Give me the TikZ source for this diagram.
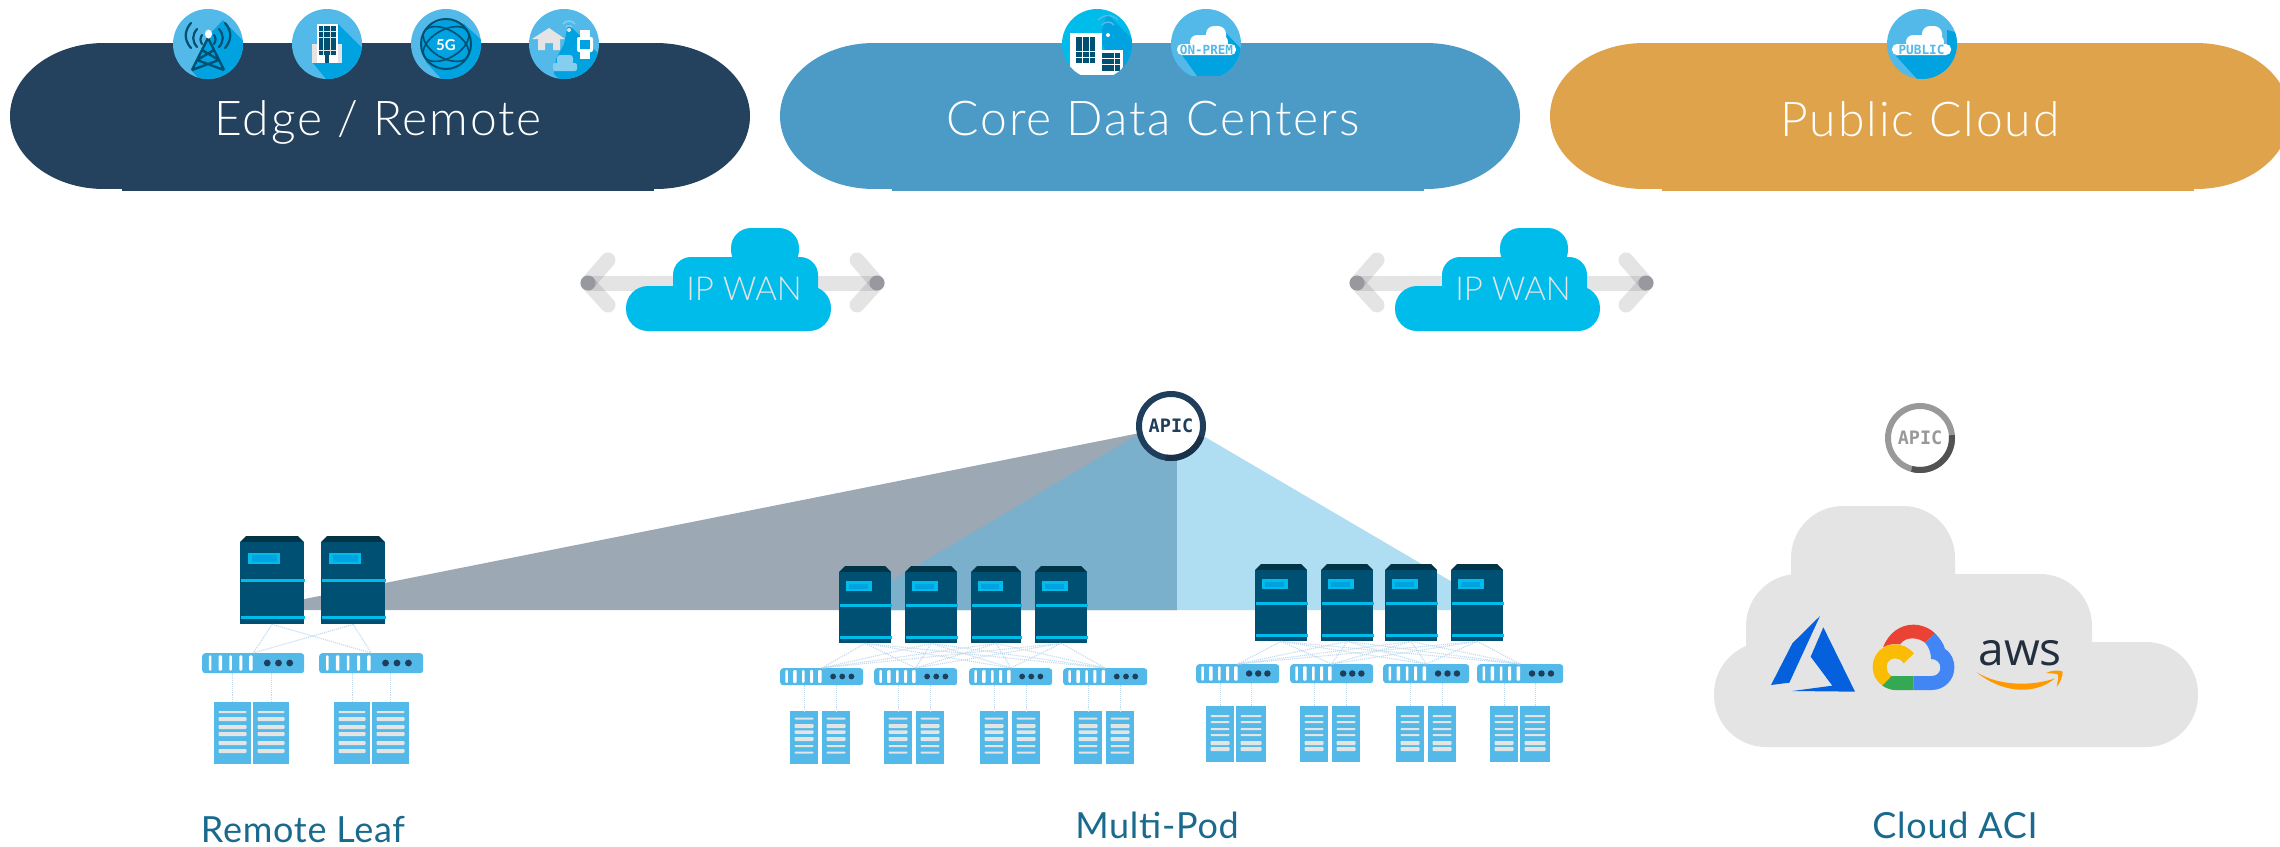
\documentclass[tikz,border=0pt]{standalone}
\usepackage{fontspec}
\setmainfont{Lato}
\newfontfamily\lightf[LetterSpace=4]{Lato Light}
\newfontfamily\labelf[LetterSpace=2]{Lato}
\newfontfamily\wanf{Lato Light}
\newfontfamily\monof{DejaVu Sans Mono}
\newfontfamily\opensf{Open Sans}
\definecolor{edgecol}{HTML}{24425D}
\definecolor{corecol}{HTML}{4C9BC7}
\definecolor{pubcol}{HTML}{DFA44B}
\definecolor{iconlight}{HTML}{52B9E9}
\definecolor{icondark}{HTML}{00A3E0}
\definecolor{cyanc}{HTML}{00BCEB}
\definecolor{deepblue}{HTML}{005073}
\definecolor{capcol}{HTML}{003446}
\definecolor{paleg}{HTML}{E4E4E4}
\definecolor{labelcol}{HTML}{1A6A8E}
\definecolor{dotcol}{HTML}{C2DAED}
\definecolor{navyring}{HTML}{1F3E5C}
\definecolor{arrowg}{HTML}{4D4D55}
\definecolor{apexg}{HTML}{97999F}
\definecolor{wedgeg}{HTML}{9CA8B3}
\definecolor{wedgem}{HTML}{7BB0CD}
\definecolor{wedgel}{HTML}{AFDDF2}
\tikzset{
  headtxt/.style={anchor=base,inner sep=0pt,text=white,font=\lightf\fontsize{48}{50}\selectfont},
  labtxt/.style={anchor=base,inner sep=0pt,text=labelcol,font=\labelf\fontsize{36}{40}\selectfont},
  wantxt/.style={anchor=base,inner sep=0pt,text=paleg,font=\wanf\fontsize{33}{36}\selectfont},
  dotline/.style={densely dotted,draw=dotcol,line width=1.1pt},
  spinebody/.style={rectangle,fill=deepblue,inner sep=0pt,anchor=north west},
  leafbody/.style={rectangle,fill=iconlight,rounded corners=3pt,inner sep=0pt,anchor=north west},
  hostbody/.style={rectangle,fill=iconlight,inner sep=0pt,anchor=north west},
  iconcirc/.style={circle,inner sep=0pt,minimum size=70pt},
  apicnode/.style={circle,fill=white,inner sep=0pt,minimum size=64pt,line width=6pt,font=\monof\bfseries\fontsize{18.5}{18}\selectfont},
  shaftline/.style={line width=15pt,draw=arrowg,opacity=.15},
  armline/.style={line width=15pt,line cap=round,draw=arrowg,opacity=.15},
}
% name, x, y(body top), w, h
\newcommand\spinebox[5]{%
  \begin{scope}[shift={(#2,#3)}]
    \fill[capcol] (0,0)--(6,-6)--(#4-6,-6)--(#4,0)--cycle;
    \node[spinebody,minimum width=#4pt,minimum height=#5pt] (#1) at (0,0) {};
    \fill[cyanc] (0.13*#4,0.13*#5) rectangle (0.63*#4,0.27*#5);
    \fill[icondark] (0.13*#4+3.5,0.13*#5+2.5) rectangle (0.63*#4-3.5,0.27*#5-2.5);
    \fill[cyanc] (1,0.47*#5-1.2) rectangle (#4+1,0.47*#5+1.2);
    \fill[cyanc] (1,0.92*#5-1.2) rectangle (#4+1,0.92*#5+1.2);
  \end{scope}}
% name, x, y, w, h
\newcommand\leafbox[5]{%
  \begin{scope}[shift={(#2,#3)}]
    \node[leafbody,minimum width=#4pt,minimum height=#5pt] (#1) at (0,0) {};
    \foreach \ff/\ww in {.08/2.5,.18/3.5,.28/2.5,.38/3,.48/3.5}
      \fill[white,rounded corners=1pt] (\ff*#4-\ww/2,0.12*#5) rectangle (\ff*#4+\ww/2,0.88*#5);
    \foreach \ff in {.64,.75,.86}
      \fill[navyring] (\ff*#4,0.5*#5) circle (0.17*#5);
  \end{scope}}
% name, x, y, w, h, barlist
\newcommand\hostbox[6]{%
  \begin{scope}[shift={(#2,#3)}]
    \node[hostbody,minimum width=#4pt,minimum height=#5pt] (#1) at (0,0) {};
    \foreach \yy/\hh in #6
      \fill[paleg,rounded corners=.8pt] (4.5,\yy-\hh/2) rectangle (#4-4.5,\yy+\hh/2);
  \end{scope}}
\newcommand\barsR{10/2,17/4,25/4,32/4,41/4,49/4}
\newcommand\barsA{7.5/2,15/4,21/3.5,28/4,35/2,41.5/2}
\newcommand\barsB{10/2,16/2,23/2,29/2,37/4,43/4}
% name, cx, light, dark, polygon, bottom clip, content
\newcommand\iconbase[7]{%
  \begin{scope}[shift={(#2,44)}]
    \clip (-40,-40) rectangle (40,#6);
    \node[iconcirc,fill=#3] (#1) at (0,0) {};
    \begin{scope}
      \clip (0,0) circle (35);
      \fill[#4] #5 -- cycle;
      #7
    \end{scope}
  \end{scope}}
\newcommand\iconcloud[3]{%
  \fill[white,rounded corners=5pt] (#1,0) rectangle (#2,11);
  \fill[white,rounded corners=7pt] (-16,-9) rectangle (22,5);
  \fill[white,rounded corners=8pt] (0,-18) rectangle (20,2);
  \node[inner sep=0pt,text=iconlight,font=\monof\bfseries\fontsize{#3}{#3}\selectfont] at (0.5*#1+0.5*#2,5.5)}
% name, dx
\newcommand\wangroup[2]{%
  \begin{scope}[shift={(#2,0)}]
    \coordinate (#1L) at (588,283);
    \coordinate (#1R) at (877,283);
    \draw[shaftline] (#1L) -- (#1R);
    \draw[armline] (#1L) -- (608,260);
    \draw[armline] (#1L) -- (608,305);
    \draw[armline] (#1R) -- (857,260);
    \draw[armline] (#1R) -- (857,305);
    \fill[apexg] (#1L) circle (7.5);
    \fill[apexg] (#1R) circle (7.5);
    \fill[cyanc,rounded corners=22pt] (626,286) rectangle (831,331);
    \fill[cyanc,rounded corners=18pt] (673,257) rectangle (818,305);
    \fill[cyanc,rounded corners=20pt] (731,228) rectangle (799,270);
    \node[wantxt] (#1T) at (744,300) {IP WAN};
  \end{scope}}
\newcommand\pillshape[3]{% colour, left x, width
  \fill[#1] (#2+94,116) ellipse [x radius=94,y radius=73];
  \fill[#1] (#2+#3-94,116) ellipse [x radius=94,y radius=73];
  \fill[#1] (#2+94,43) rectangle (#2+#3-94,189);
  \fill[#1] (#2+112,43) rectangle (#2+#3-96,191);}
\begin{document}
\begin{tikzpicture}[x=1pt,y=-1pt]
\useasboundingbox (0,0) rectangle (2280,846);
\clip (0,0) rectangle (2280,846);
\fill[white] (0,0) rectangle (2280,846);

% pills
\pillshape{edgecol}{10}{740}
\pillshape{corecol}{780}{740}
\pillshape{pubcol}{1550}{740}
\node[headtxt] (edgeT) at (378,135) {Edge / Remote};
\node[headtxt] (coreT) at (1153,135) {Core Data Centers};
\node[headtxt] (pubT) at (1920,136.5) {Public Cloud};

% icons
\iconbase{icTower}{208}{iconlight}{icondark}{(15,-24)--(40,2)--(40,40)--(-4,40)--(-17,26)--(0,-8)}{40}{%
  \draw[deepblue,line width=2.4pt,line join=round] (-16,26)--(0,-6)--(16,26) (-6,6)--(11,16) (6,6)--(-11,16) (-11,16)--(16,26) (11,16)--(-16,26);
  \draw[deepblue,line width=2.2pt,line cap=round]
   (-17,-21) .. controls (-24,-13) and (-24,-4) .. (-17,4)
   (-11,-15) .. controls (-16,-9) and (-16,-3) .. (-11,3)
   (-6,-9) .. controls (-8,-6) and (-8,-3) .. (-6,0)
   (17,-21) .. controls (24,-13) and (24,-4) .. (17,4)
   (11,-15) .. controls (16,-9) and (16,-3) .. (11,3)
   (6,-9) .. controls (8,-6) and (8,-3) .. (6,0);
  \fill[white] (0.5,-10) ellipse [x radius=3.5,y radius=4.5];
}
\iconbase{icBuild}{327}{iconlight}{icondark}{(11,-20)--(40,9)--(40,40)--(3,40)--(-14,19)}{40}{%
  \fill[paleg] (-15,0) rectangle (15,19);
  \fill[white] (-10,-20) rectangle (11,19);
  \fill[deepblue] (-8,-18) rectangle (9,11);
  \fill[deepblue] (-2,11) rectangle (2,19);
  \draw[paleg,line width=1pt] (-8,-13) -- (9,-13) (-8,-7) -- (9,-7) (-8,6) -- (9,6) (-3.5,-18) -- (-3.5,11) (3,-18) -- (3,11);
}
\iconbase{ic5G}{446}{iconlight}{icondark}{(18,-20)--(40,0)--(40,40)--(0,40)--(-20,18)--(-25,0)--(-18,-18)--(0,-25)}{40}{%
  \draw[deepblue,line width=2pt] (0,0) circle (25);
  \draw[deepblue,line width=1.6pt,rotate=30] (0,0) ellipse [x radius=25,y radius=14];
  \draw[deepblue,line width=1.6pt,rotate=-30] (0,0) ellipse [x radius=25,y radius=14];
  \node[inner sep=1pt,fill=icondark,text=white,font=\bfseries\fontsize{15}{15}\selectfont] at (0,1) {5G};
}
\iconbase{icHome}{564}{iconlight}{icondark}{(4,-20)--(40,15)--(40,40)--(0,40)--(-10,30)--(-8,15)--(0,0)}{40}{%
  \fill[paleg] (-32,-5) -- (-15,-16) -- (1,-5) -- (-4,-5) -- (-4,6) -- (-11,6) -- (-11,-1) -- (-19,-1) -- (-19,6) -- (-26,6) -- (-26,-5) -- cycle;
  \draw[iconlight!70!white,line width=1.5pt] (-1,-20) .. controls (2,-24) and (8,-24) .. (11,-20) (2,-17) .. controls (4,-19) and (6,-19) .. (8,-17);
  \fill[paleg] (5,-14) circle (2);
  \fill[white,rounded corners=2pt] (13,-7) rectangle (29,8);
  \fill[white] (16,-14) rectangle (26,15);
  \fill[icondark] (16,-4) rectangle (26,5);
  \fill[iconlight!70!white,rounded corners=2pt] (-11,19) rectangle (13,27);
  \fill[iconlight!70!white,rounded corners=3pt] (-7,11) rectangle (9,21);
}
\iconbase{icSite}{1097}{cyanc}{icondark}{(10,-30)--(40,0)--(40,40)--(25,40)--(5,0)--(5,-15)}{31}{%
  \draw[iconlight,line width=1.5pt] (5,-19) .. controls (8,-23) and (14,-23) .. (17,-19) (1,-24) .. controls (7,-30) and (15,-30) .. (21,-24);
  \fill[white] (11,-9) circle (2);
  \fill[white] (-27,-11) rectangle (5,31);
  \fill[white] (5,6) rectangle (26,31);
  \fill[deepblue] (-21,-7) rectangle (-2,19);
  \fill[deepblue] (5,9) rectangle (23,27);
  \draw[white,line width=1pt] (-21,7) -- (-2,7) (-21,13) -- (-2,13) (-15,-7) -- (-15,19) (-8,-7) -- (-8,19) (5,14) -- (23,14) (5,20) -- (23,20) (17,9) -- (17,27);
}
\iconbase{icOnprem}{1206}{iconlight}{icondark}{(-24,11)--(-6,36)--(40,36)--(40,10)--(19,-12)}{31}{%
  \iconcloud{-29}{30}{12.6} {ON-PREM};
}
\iconbase{icPublic}{1922}{iconlight}{icondark}{(-26,12)--(-4,36)--(40,36)--(40,-10)--(25,-14)--(25,0)}{40}{%
  \iconcloud{-30}{29}{12.7} {PUBLIC};
}

% IP WAN groups
\wangroup{wanA}{0}
\wangroup{wanB}{769}

% coverage wedges
\fill[wedgeg] (249,610) -- (1145,432) -- (1171,426) -- (1177,610) -- cycle;
\fill[wedgem] (842,610) -- (1171,415) -- (1177,415) -- (1177,610) -- cycle;
\fill[wedgel] (1177,610) -- (1177,420) -- (1171,417) -- (1500,610) -- cycle;

% Remote leaf
\spinebox{rs1}{240}{542}{64}{82}
\spinebox{rs2}{321}{542}{64}{82}
\leafbox{rl1}{202}{653}{102}{20}
\leafbox{rl2}{319}{653}{104}{20}
\hostbox{rh1}{214}{702}{37}{62}{\barsR}
\hostbox{rh2}{253}{702}{36}{62}{\barsR}
\hostbox{rh3}{334}{702}{36}{62}{\barsR}
\hostbox{rh4}{372}{702}{37}{62}{\barsR}

% Pod 1
\spinebox{as1}{839}{572}{52}{71}
\spinebox{as2}{905}{572}{52}{71}
\spinebox{as3}{971}{572}{50}{71}
\spinebox{as4}{1035}{572}{52}{71}
\leafbox{al1}{780}{668}{83}{17}
\leafbox{al2}{874}{668}{83}{17}
\leafbox{al3}{969}{668}{83}{17}
\leafbox{al4}{1063}{668}{84}{17}
\hostbox{ah1}{790}{711}{28}{53}{\barsA}
\hostbox{ah2}{822}{711}{28}{53}{\barsA}
\hostbox{ah3}{884}{711}{28}{53}{\barsA}
\hostbox{ah4}{916}{711}{28}{53}{\barsA}
\hostbox{ah5}{980}{711}{28}{53}{\barsA}
\hostbox{ah6}{1012}{711}{28}{53}{\barsA}
\hostbox{ah7}{1074}{711}{28}{53}{\barsA}
\hostbox{ah8}{1106}{711}{28}{53}{\barsA}

% Pod 2
\spinebox{bs1}{1255}{570}{52}{71}
\spinebox{bs2}{1321}{570}{52}{71}
\spinebox{bs3}{1385}{570}{52}{71}
\spinebox{bs4}{1451}{570}{52}{71}
\leafbox{bl1}{1196}{664}{83}{19}
\leafbox{bl2}{1290}{664}{83}{19}
\leafbox{bl3}{1383}{664}{86}{19}
\leafbox{bl4}{1477}{664}{86}{19}
\hostbox{bh1}{1206}{706}{28}{56}{\barsB}
\hostbox{bh2}{1236}{706}{30}{56}{\barsB}
\hostbox{bh3}{1300}{706}{28}{56}{\barsB}
\hostbox{bh4}{1332}{706}{28}{56}{\barsB}
\hostbox{bh5}{1396}{706}{28}{56}{\barsB}
\hostbox{bh6}{1428}{706}{28}{56}{\barsB}
\hostbox{bh7}{1490}{706}{28}{56}{\barsB}
\hostbox{bh8}{1520}{706}{30}{56}{\barsB}

% connectors
\foreach \a in {rs1,rs2} \foreach \b in {rl1,rl2} \draw[dotline] (\a.south) -- (\b.north);
\foreach \a in {as1,as2,as3,as4} \foreach \b in {al1,al2,al3,al4} \draw[dotline] (\a.south) -- (\b.north);
\foreach \a in {bs1,bs2,bs3,bs4} \foreach \b in {bl1,bl2,bl3,bl4} \draw[dotline] (\a.south) -- (\b.north);
\foreach \l/\h in {rl1/rh1,rl1/rh2,rl2/rh3,rl2/rh4,al1/ah1,al1/ah2,al2/ah3,al2/ah4,al3/ah5,al3/ah6,al4/ah7,al4/ah8,bl1/bh1,bl1/bh2,bl2/bh3,bl2/bh4,bl3/bh5,bl3/bh6,bl4/bh7,bl4/bh8}
  \draw[dotline] (\h.north |- \l.south) -- (\h.north);

% APIC nodes
\node[apicnode,draw=navyring,text=navyring] (apicA) at (1171,426) {APIC};
\draw[line width=6pt,draw=navyring!80!black] (apicA.center) ++(20:32) arc[start angle=20,end angle=100,radius=32];
\node[apicnode,draw=black!40,text=black!40] (apicB) at (1920,438) {APIC};
\draw[line width=6pt,draw=black!68] (apicB.center) ++(-5:32) arc[start angle=-5,end angle=105,radius=32];

% grey cloud
\fill[paleg,rounded corners=52pt] (1714,642) rectangle (2198,747);
\fill[paleg,rounded corners=52pt] (1746,574) rectangle (2092,720);
\fill[paleg,rounded corners=52pt] (1791,506) rectangle (1955,640);

% provider logos
\begin{scope}[shift={(1700,490)},x=.33333pt,y=-.33333pt]
  \definecolor{azurec}{HTML}{0460DC}
  \definecolor{gred}{HTML}{EA4335}
  \fill[azurec] (360,378) -- (277,460) -- (213,585) -- (268,578) -- cycle;
  \fill[azurec] (370,412) -- (332,500) -- (397,587) -- (277,603) -- (465,605) -- cycle;
  \fill[gred] (549,472) .. controls (565,430) and (600,404) .. (640,404) .. controls (665,404) and (690,415) .. (705,430) -- (675,458) .. controls (660,445) and (620,435) .. (600,463) .. controls (580,460) and (560,465) .. (549,472) -- cycle;
  \definecolor{gblue}{HTML}{4285F4}
  \definecolor{gyel}{HTML}{FBBC05}
  \definecolor{ggreen}{HTML}{34A853}
  \fill[gblue] (705,430) .. controls (720,445) and (730,460) .. (735,477) .. controls (755,490) and (763,510) .. (763,533) .. controls (763,570) and (733,600) .. (695,600) -- (640,600) -- (640,558) -- (695,558) .. controls (710,558) and (721,548) .. (721,533) .. controls (721,518) and (710,507) .. (693,507) .. controls (693,490) and (688,472) .. (675,458) -- cycle;
  \fill[gyel] (642,490) .. controls (625,472) and (608,463) .. (585,463) .. controls (548,463) and (518,493) .. (518,530) .. controls (518,555) and (530,575) .. (547,587) -- (575,558) .. controls (565,552) and (560,543) .. (560,530) .. controls (560,516) and (571,505) .. (585,505) .. controls (595,505) and (605,510) .. (611,520) -- cycle;
  \fill[ggreen] (547,587) .. controls (560,596) and (575,600) .. (585,600) -- (640,600) -- (640,558) -- (575,558) -- cycle;
  \definecolor{awsink}{HTML}{232F3E}
  \node[anchor=base west,inner sep=0pt,text=awsink,font=\opensf\fontsize{46}{46}\selectfont] (awsT) at (835,525) {aws};
  \definecolor{awsor}{HTML}{FF9900}
  \fill[awsor] (830,547) .. controls (900,605) and (1000,620) .. (1065,565) .. controls (1000,588) and (900,590) .. (830,547) -- cycle;
  \fill[awsor] (1038,549) .. controls (1055,540) and (1080,540) .. (1088,545) .. controls (1088,560) and (1080,580) .. (1070,590) .. controls (1072,575) and (1078,562) .. (1073,553) .. controls (1065,550) and (1050,550) .. (1038,549) -- cycle;
\end{scope}

% labels
\node[labtxt] (lblR) at (303,842) {Remote Leaf};
\node[labtxt] (lblM) at (1157,838) {Multi-Pod};
\node[labtxt] (lblC) at (1955,838) {Cloud ACI};
\end{tikzpicture}
\end{document}
